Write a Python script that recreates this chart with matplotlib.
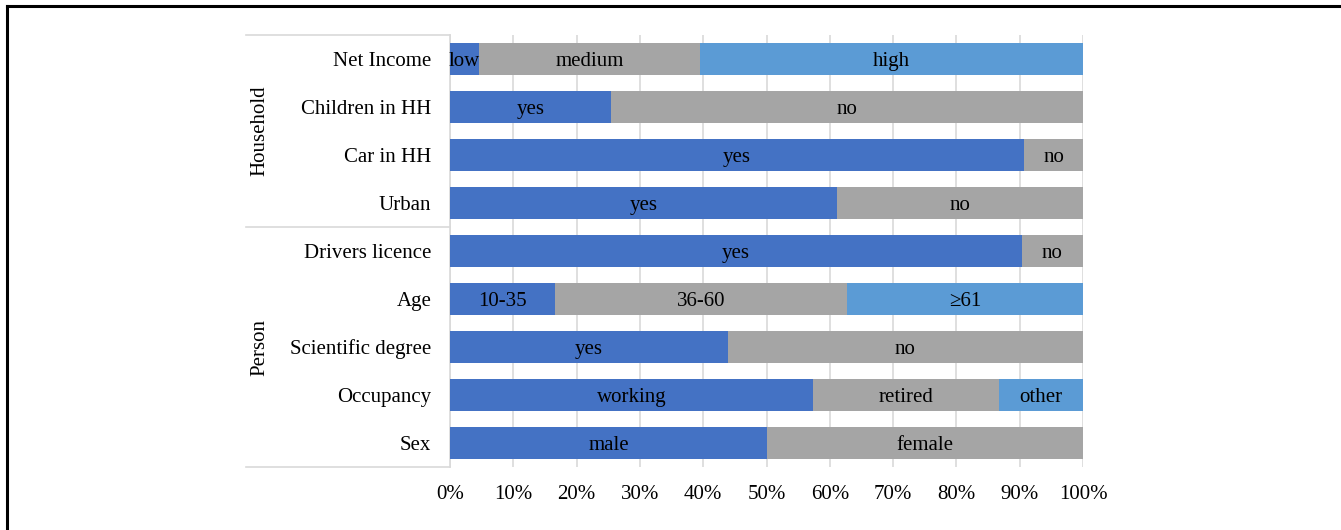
import matplotlib
matplotlib.use("Agg")
import matplotlib.pyplot as plt
import matplotlib.transforms as mtransforms

# ---- data ----
rows = ["Net Income", "Children in HH", "Car in HH", "Urban",
        "Drivers licence", "Age", "Scientific degree", "Occupancy", "Sex"]
segment_values = [
    [4.6, 34.9, 60.5],
    [25.4, 74.6],
    [90.7, 9.3],
    [61.1, 38.9],
    [90.3, 9.7],
    [16.6, 46.1, 37.3],
    [43.9, 56.1],
    [57.4, 29.4, 13.2],
    [50.1, 49.9],
]
segment_labels = [
    ["low", "medium", "high"],
    ["yes", "no"],
    ["yes", "no"],
    ["yes", "no"],
    ["yes", "no"],
    ["10-35", "36-60", "\u226561"],
    ["yes", "no"],
    ["working", "retired", "other"],
    ["male", "female"],
]
groups = ["Household", "Person"]
group_rows = [(0, 3), (4, 8)]
xticks = [0, 10, 20, 30, 40, 50, 60, 70, 80, 90, 100]
xtick_labels = [f"{v}%" for v in xticks]

colors = ["#4472C4", "#A5A5A5", "#5B9BD5"]
grid_color = "#D9D9D9"
fs = 15

plt.rcParams['font.family'] = ['Liberation Serif', 'DejaVu Serif']

fig = plt.figure(figsize=(13.41, 5.30), dpi=100)
ax = fig.add_axes([450/1341, 1-467/530, 633/1341, 432/530])

for i, (vals, labs) in enumerate(zip(segment_values, segment_labels)):
    left = 0
    for j, (v, lab) in enumerate(zip(vals, labs)):
        ax.barh(i, v, left=left, height=0.67, color=colors[j], zorder=2)
        ax.text(left + v/2, i, lab, ha="center", va="center_baseline",
                fontsize=fs, color="black", zorder=3)
        left += v

ax.set_xlim(0, 100)
ax.set_ylim(len(rows) - 0.5, -0.5)
ax.set_xticks(xticks)
ax.set_xticklabels(xtick_labels, fontsize=fs)
ax.set_yticks(range(len(rows)))
ax.set_yticklabels(rows, fontsize=fs)
ax.tick_params(axis="both", length=0)
ax.tick_params(axis="x", pad=13)
ax.tick_params(axis="y", pad=13.5)
for s in ax.spines.values():
    s.set_visible(False)
ax.xaxis.grid(True, color=grid_color, linewidth=1.2, zorder=0)
ax.set_axisbelow(True)

# left axis line and group separators
trans = mtransforms.blended_transform_factory(ax.transAxes, ax.transData)
ax.plot([0, 0], [-0.5, len(rows) - 0.5], transform=trans, color=grid_color,
        linewidth=1.2, clip_on=False, zorder=1)
xl = (246 - 450) / 633
bounds = [-0.5] + [g[1] + 0.5 for g in group_rows]
for b in bounds:
    ax.plot([xl, 0], [b, b], transform=trans, color=grid_color,
            linewidth=1.2, clip_on=False)
gx = (260 - 450) / 633
for name, (a, b) in zip(groups, group_rows):
    ax.text(gx, (a + b) / 2, name, transform=trans, rotation=90,
            ha="center", va="center", fontsize=fs)

# figure frame (top and left)
fig.add_artist(plt.Line2D([7/1341, 1], [1 - 6/530, 1 - 6/530],
                          transform=fig.transFigure, color="black", linewidth=2.2))
fig.add_artist(plt.Line2D([7/1341, 7/1341], [0, 1 - 6/530],
                          transform=fig.transFigure, color="black", linewidth=2.2))

fig.savefig("out.png", dpi=100)
